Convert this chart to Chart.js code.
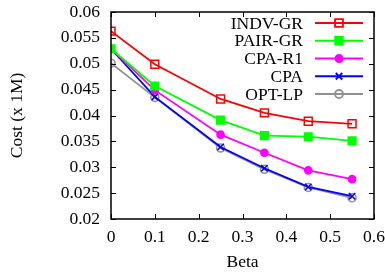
<!DOCTYPE html>
<html lang="en">
  <head>
    <meta charset="UTF-8" />
    <title>Cost vs Beta</title>
    <script src="https://cdn.jsdelivr.net/npm/chart.js"></script>
    <style>
      body { margin: 0; background: #fff; }
      #wrap { width: 385px; height: 275px; }
    </style>
  </head>
  <body>
    <div id="wrap"><canvas id="costChart" width="385" height="275"></canvas></div>
    <script>
      // values
      const betas = [0, 0.1, 0.25, 0.35, 0.45, 0.55];
      const indvGr = [0.0563, 0.0499, 0.0432, 0.0405, 0.0389, 0.0384];
      const pairGr = [0.0529, 0.0457, 0.0391, 0.0361, 0.0359, 0.0351];
      const cpaR1 = [0.0529, 0.0449, 0.0363, 0.0328, 0.0294, 0.0277];
      const cpa = [0.0529, 0.0436, 0.0339, 0.0298, 0.0262, 0.0244];
      const optLp = [0.0501, 0.0435, 0.0337, 0.0296, 0.0261, 0.0241];

      const FONT = "'Liberation Serif', 'Times New Roman', 'DejaVu Serif', serif";
      Chart.defaults.font.family = FONT;
      Chart.defaults.font.size = 17.5;
      Chart.defaults.color = "#000";

      function pts(ys) {
        return betas.map((b, i) => ({ x: b, y: ys[i] }));
      }

      const series = [
        { label: "INDV-GR", data: indvGr, color: "#ff0000", style: "rect", fill: "transparent", r: 5.6 },
        { label: "PAIR-GR", data: pairGr, color: "#00ff00", style: "rect", fill: "#00ff00", r: 5.4 },
        { label: "CPA-R1", data: cpaR1, color: "#ff00ff", style: "circle", fill: "#ff00ff", r: 3.6 },
        { label: "CPA", data: cpa, color: "#0000ff", style: "crossRot", fill: "#0000ff", r: 4.6 },
        { label: "OPT-LP", data: optLp, color: "#909090", style: "circle", fill: "transparent", r: 4 }
      ];

      // frame + inward ticks on all four sides, like gnuplot
      const framePlugin = {
        id: "frame",
        afterDatasetsDraw(chart) {
          const ctx = chart.ctx;
          const a = chart.chartArea;
          const xs = chart.scales.x, ys = chart.scales.y;
          const len = 5;
          ctx.save();
          ctx.strokeStyle = "#000";
          ctx.lineWidth = 1;
          ctx.beginPath();
          xs.ticks.forEach(t => {
            const px = Math.round(xs.getPixelForValue(t.value)) + 0.5;
            ctx.moveTo(px, a.bottom); ctx.lineTo(px, a.bottom - len);
            ctx.moveTo(px, a.top); ctx.lineTo(px, a.top + len);
          });
          ys.ticks.forEach(t => {
            const py = Math.round(ys.getPixelForValue(t.value)) + 0.5;
            ctx.moveTo(a.left, py); ctx.lineTo(a.left + len, py);
            ctx.moveTo(a.right, py); ctx.lineTo(a.right - len, py);
          });
          ctx.stroke();
          ctx.lineWidth = 1.5;
          ctx.strokeRect(a.left, a.top, a.right - a.left, a.bottom - a.top);
          ctx.restore();
        }
      };

      // key in the top right corner: text, then a line sample with the marker
      const keyPlugin = {
        id: "key",
        afterDraw(chart) {
          const ctx = chart.ctx;
          const a = chart.chartArea;
          const textRight = a.right - 71;
          const lineL = a.right - 59, lineR = a.right - 11;
          ctx.save();
          ctx.font = "17.5px " + FONT;
          ctx.textAlign = "right";
          ctx.textBaseline = "middle";
          series.forEach((s, i) => {
            const y = a.top + 11 + i * 17.75;
            ctx.fillStyle = "#000";
            ctx.fillText(s.label, textRight, y + 1);
            ctx.strokeStyle = s.color;
            ctx.lineWidth = 1.8;
            ctx.beginPath();
            ctx.moveTo(lineL, y); ctx.lineTo(lineR, y);
            ctx.stroke();
            ctx.fillStyle = s.fill;
            Chart.helpers.drawPoint(ctx, { pointStyle: s.style, radius: s.r, rotation: 0, borderWidth: 1.5 }, (lineL + lineR) / 2, y);
          });
          ctx.restore();
        }
      };

      new Chart(document.getElementById("costChart"), {
        type: "line",
        data: {
          datasets: series.map(s => ({
            label: s.label,
            data: pts(s.data),
            borderColor: s.color,
            backgroundColor: s.fill,
            pointBackgroundColor: s.fill,
            pointBorderColor: s.color,
            pointStyle: s.style,
            pointRadius: s.r,
            pointBorderWidth: 1.5,
            borderWidth: 1.8,
            tension: 0,
            fill: false
          }))
        },
        options: {
          responsive: false,
          animation: false,
          devicePixelRatio: 1,
          layout: { padding: { left: 0, top: 12, right: 11, bottom: 0 } },
          plugins: { legend: { display: false }, tooltip: { enabled: false } },
          scales: {
            x: {
              type: "linear",
              min: 0,
              max: 0.6,
              grid: { display: false, drawTicks: false },
              border: { display: false },
              ticks: { stepSize: 0.1, padding: 8, maxRotation: 0, callback: v => +v.toFixed(1) },
              title: { display: true, text: "Beta", padding: { top: 0, bottom: 2 } },
              afterFit: s => { s.height = 56; s.paddingLeft = 0; s.paddingRight = 0; }
            },
            y: {
              min: 0.02,
              max: 0.06,
              grid: { display: false, drawTicks: false },
              border: { display: false },
              ticks: { stepSize: 0.005, padding: 11, callback: v => +v.toFixed(3) },
              title: { display: true, text: "Cost (x 1M)", padding: { top: 7, bottom: 0 } },
              afterFit: s => { s.width = 111; s.paddingTop = 0; s.paddingBottom = 0; }
            }
          }
        },
        plugins: [framePlugin, keyPlugin]
      });
    </script>
  </body>
</html>
